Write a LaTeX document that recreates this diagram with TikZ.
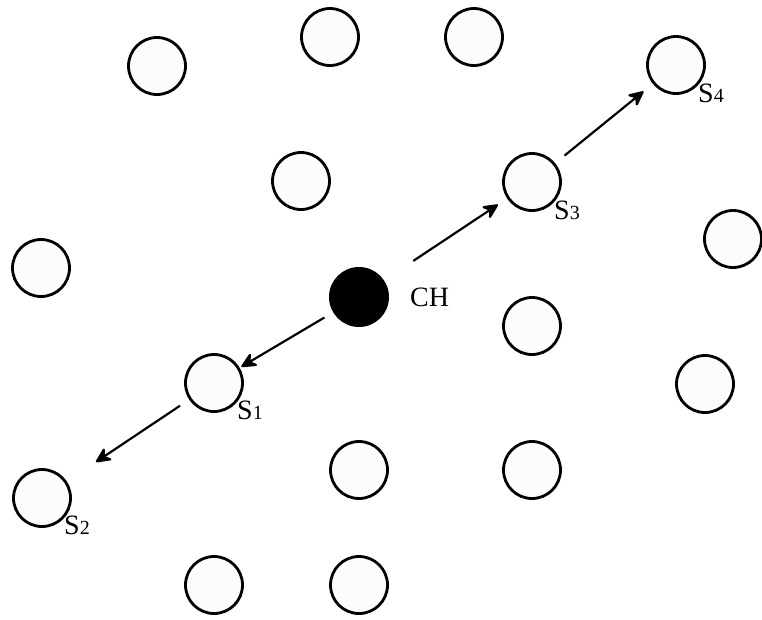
\documentclass[tikz,border=0pt]{standalone}
\usepackage{fontspec}
\setmainfont{Liberation Serif}
\usetikzlibrary{arrows.meta}

\begin{document}
\begin{tikzpicture}[
  x=1pt, y=-1pt,
  >={Stealth[length=18pt, width=17pt, inset=6pt, round]},
  hop/.style={->, line width=2.2pt, draw=black},
  sensor/.style={
    circle,
    draw=black,
    fill=white!99!black,
    line width=2.8pt,
    minimum size=57pt,
    inner sep=0pt
  },
  head/.style={
    circle,
    fill=black,
    minimum size=60pt,
    inner sep=0pt
  },
  tag/.style={font=\fontsize{28}{30}\selectfont, inner sep=0pt}
]
  \useasboundingbox (0,0) rectangle (762,619);

  % plain sensor nodes
  \foreach \name/\px/\py in {n1/157/66, n2/330/37, n3/474/37, n4/301/181,
      n5/41/268, n6/733/239, n7/532/326, n8/705/384, n9/359/470,
      n10/532/470, n11/214/585, n12/359/585}
    \node[sensor] (\name) at (\px,\py) {};

  % cluster head and relay path
  \node[head] (ch) at (359,297) {};
  \node[sensor] (s1) at (214,383) {};
  \node[sensor] (s2) at (42,498) {};
  \node[sensor] (s3) at (532,182) {};
  \node[sensor] (s4) at (676,65) {};

  \node[tag, anchor=west] (chlabel) at (410,297) {CH};
  \node[tag, anchor=north west] (s1label) at (237,401) {S{\fontsize{20}{22}\selectfont 1}};
  \node[tag, anchor=north west] (s2label) at (64,516) {S{\fontsize{20}{22}\selectfont 2}};
  \node[tag, anchor=north west] (s3label) at (554,201) {S{\fontsize{20}{22}\selectfont 3}};
  \node[tag, anchor=north west] (s4label) at (698,84) {S{\fontsize{20}{22}\selectfont 4}};

  \draw[hop, shorten <=10pt, shorten >=2pt] (ch) -- (s1);
  \draw[hop, shorten <=11pt, shorten >=35pt] (s1) -- (s2);
  \draw[hop, shorten <=35pt, shorten >=11pt] (ch) -- (s3);
  \draw[hop, shorten <=12pt, shorten >=12pt] (s3) -- (s4);
\end{tikzpicture}
\end{document}
